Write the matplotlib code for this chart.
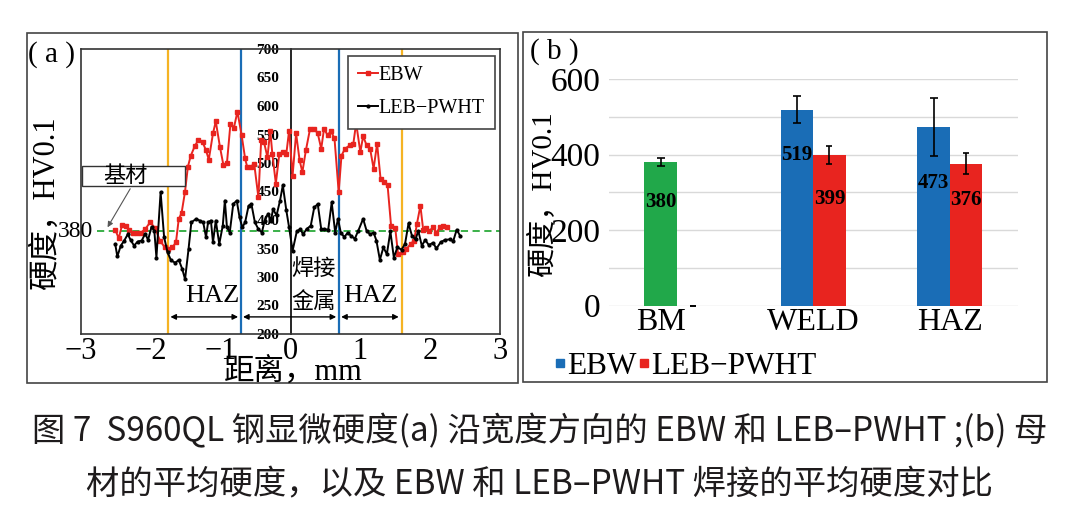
import numpy as np
import matplotlib.pyplot as plt
from matplotlib.patches import Rectangle
from matplotlib.lines import Line2D

plt.rcParams['font.family'] = ['Liberation Serif', 'Noto Sans CJK SC']
plt.rcParams['axes.unicode_minus'] = True

# (a) hardness profile across the joint
ebw_x = [-2.51, -2.46, -2.41, -2.36, -2.31, -2.26, -2.20, -2.14, -2.08, -2.01,
         -1.94, -1.87, -1.80, -1.75, -1.69, -1.64, -1.60, -1.56, -1.51, -1.47,
         -1.43, -1.37, -1.32, -1.26, -1.21, -1.17, -1.11, -1.07, -1.01, -0.96,
         -0.91, -0.86, -0.81, -0.76, -0.70, -0.65, -0.62, -0.57, -0.52, -0.46,
         -0.42, -0.38, -0.33, -0.29, -0.26, -0.21, -0.16, -0.11, -0.06, -0.02,
         0.03, 0.08, 0.13, 0.17, 0.22, 0.28, 0.34, 0.39, 0.44, 0.48,
         0.53, 0.58, 0.63, 0.69, 0.73, 0.78, 0.85, 0.90, 0.94, 1.00,
         1.04, 1.09, 1.14, 1.19, 1.24, 1.29, 1.34, 1.39, 1.44, 1.50,
         1.54, 1.61, 1.66, 1.72, 1.77, 1.81, 1.86, 1.90, 1.94, 1.99,
         2.04, 2.09, 2.14, 2.19, 2.24]
ebw_hv = [383, 368, 392, 389, 383, 378, 378, 378, 384, 396,
          386, 364, 352, 349, 352, 361, 402, 412, 450, 493,
          512, 530, 540, 537, 522, 506, 552, 573, 528, 496,
          500, 569, 562, 590, 549, 508, 493, 493, 499, 440,
          540, 537, 510, 557, 516, 464, 516, 519, 516, 557,
          478, 552, 505, 484, 522, 560, 560, 552, 525, 560,
          549, 556, 543, 449, 513, 525, 531, 534, 570, 519,
          547, 531, 525, 490, 534, 472, 466, 461, 390, 386,
          340, 343, 349, 358, 364, 393, 425, 383, 386, 381,
          387, 378, 387, 390, 388]

pwht_x = [-2.51, -2.48, -2.43, -2.38, -2.33, -2.29, -2.24, -2.19, -2.13, -2.08,
          -2.04, -1.99, -1.95, -1.92, -1.86, -1.81, -1.76, -1.71, -1.65, -1.60,
          -1.55, -1.51, -1.46, -1.42, -1.35, -1.30, -1.25, -1.21, -1.18, -1.14,
          -1.11, -1.07, -1.02, -0.97, -0.94, -0.91, -0.87, -0.82, -0.77, -0.73,
          -0.69, -0.65, -0.60, -0.56, -0.51, -0.46, -0.41, -0.37, -0.32, -0.28,
          -0.25, -0.20, -0.15, -0.11, -0.06, -0.02, 0.03, 0.09, 0.14, 0.18,
          0.23, 0.29, 0.34, 0.39, 0.44, 0.48, 0.54, 0.59, 0.64, 0.68,
          0.72, 0.77, 0.82, 0.87, 0.92, 0.97, 1.04, 1.09, 1.14, 1.19,
          1.23, 1.28, 1.33, 1.38, 1.43, 1.48, 1.53, 1.59, 1.64, 1.69,
          1.74, 1.79, 1.83, 1.88, 1.93, 1.98, 2.04, 2.09, 2.15, 2.21,
          2.28, 2.33, 2.38, 2.43]
pwht_hv = [358, 336, 355, 364, 375, 365, 355, 362, 364, 376,
           365, 388, 381, 334, 449, 370, 343, 329, 325, 330,
           314, 296, 349, 396, 402, 399, 396, 370, 396, 399,
           361, 399, 358, 390, 434, 387, 378, 428, 434, 405,
           387, 396, 425, 428, 396, 384, 378, 399, 411, 399,
           419, 408, 434, 461, 417, 387, 346, 380, 384, 375,
           384, 390, 422, 428, 384, 384, 383, 431, 378, 402,
           378, 370, 378, 372, 367, 381, 402, 381, 375, 378,
           364, 330, 352, 340, 380, 334, 352, 348, 358, 394,
           372, 366, 381, 355, 365, 356, 360, 350, 361, 365,
           366, 363, 383, 372]

base_hv = 380
zone_bounds = [-1.75, -0.71, 0.695, 1.59]

# (b) average hardness per zone
zones = ['BM', 'WELD', 'HAZ']
ebw_mean = [380, 519, 473]
ebw_err = [10, 35, 78]
pwht_mean = [0, 399, 376]
pwht_err = [0, 24, 28]

RED = '#E8241F'
BLUE = '#1A6DB6'
GREEN = '#21A84A'
YELLOW = '#F5B323'
W, H = 1080, 507

fig = plt.figure(figsize=(W / 100, H / 100), dpi=100)

# ---------- panel (a) ----------
ax = fig.add_axes([81 / W, 1 - 334 / H, 419 / W, 285 / H])
ax.plot(ebw_x, ebw_hv, color=RED, lw=1.4, marker='s', ms=3, label='EBW', zorder=3)
ax.plot(pwht_x, pwht_hv, color='black', lw=1.4, marker='o', ms=2, label='LEB−PWHT', zorder=3)
ax.set_xlim(-3, 3)
ax.set_ylim(200, 700)
ax.axhline(base_hv, xmin=0.037, color='#2BAA3A', ls='--', lw=1.3, dashes=(4, 2.5), zorder=2)
for xv, c in zip(zone_bounds, [YELLOW, BLUE, BLUE, YELLOW]):
    ax.axvline(xv, color=c, lw=1.6, zorder=2)

for s in ax.spines.values():
    s.set_color('#333333')
    s.set_linewidth(1.2)
ax.spines['left'].set_position(('data', 0))
ax.spines['left'].set_color('black')
ax.add_line(Line2D([0, 0], [0, 1], transform=ax.transAxes, color='#333333', lw=1.2, clip_on=False))

ax.set_yticks(range(200, 701, 50))
ax.tick_params(axis='y', length=0, pad=8, labelsize=11)
for lbl in ax.get_yticklabels():
    lbl.set_fontweight('bold')
ax.set_xticks(range(-3, 4))
ax.tick_params(axis='x', length=0, labelsize=22, pad=2)

ax.text(-2.83, base_hv, '380', ha='right', va='center', fontsize=17)

# zone arrows
arrow_y = 230
for x0, x1 in zip(zone_bounds[:-1], zone_bounds[1:]):
    ax.annotate('', xy=(x1 - 0.04, arrow_y), xytext=(x0 + 0.03, arrow_y),
                arrowprops=dict(arrowstyle='<|-|>', color='black', lw=1,
                                mutation_scale=8, shrinkA=0, shrinkB=0))
ax.text(-1.125, 267, 'HAZ', ha='center', va='center', fontsize=19)
ax.text(1.14, 267, 'HAZ', ha='center', va='center', fontsize=19)
ax.text(0.33, 313, '焊接', ha='center', va='center', fontsize=16)
ax.text(0.33, 256, '金属', ha='center', va='center', fontsize=16)

ax.add_patch(Rectangle((-2.99, 459), 1.48, 36, facecolor='white', edgecolor='#333333',
                       lw=1, zorder=5))
ax.text(-2.37, 476, '基材', ha='center', va='center', fontsize=16, zorder=6)
ax.annotate('', xy=(-2.64, 383), xytext=(-2.275, 459),
            arrowprops=dict(arrowstyle='-|>', color='#555555', lw=0.8, mutation_scale=8),
            zorder=6)

leg = ax.legend(loc='upper right', bbox_to_anchor=(0.988, 0.975), fontsize=14.5,
                fancybox=False, edgecolor='#444444', framealpha=1, handlelength=1.0,
                handletextpad=0.05, labelspacing=0.7, borderpad=0.5, borderaxespad=0)
leg.get_frame().set_linewidth(1.2)

fig.text(46 / W, 1 - 203 / H, '硬度，HV0.1', rotation=90, fontsize=22, ha='center', va='center')
fig.text(293 / W, 1 - 372 / H, '距离，mm', fontsize=22, ha='center', va='center')
fig.text(52 / W, 1 - 55 / H, '( a )', fontsize=21, ha='center', va='center')

# ---------- panel (b) ----------
axb = fig.add_axes([608.5 / W, 1 - 305.7 / H, 409.5 / W, 226.7 / H])
w = 0.238
xi = np.arange(len(zones))
ekw = dict(lw=1.2, capthick=1.2, ecolor='black')
axb.bar(xi - w / 2, ebw_mean, w, yerr=ebw_err, color=[GREEN, BLUE, BLUE], capsize=3, error_kw=ekw)
axb.bar(xi + w / 2, pwht_mean, w, yerr=pwht_err, color=RED, capsize=2,
        error_kw=dict(lw=1.2, capthick=1.2, ecolor='black'))
axb.set_xlim(-0.5, 2.5)
axb.set_ylim(0, 600)
axb.set_yticks([0, 200, 400, 600])
axb.set_yticks([100, 300, 500], minor=True)
axb.grid(axis='y', which='both', color='#D9D9D9', lw=1)
axb.set_axisbelow(True)
for s in axb.spines.values():
    s.set_visible(False)
axb.tick_params(axis='both', which='both', length=0)
axb.tick_params(axis='y', labelsize=24, pad=6)
axb.set_xticks([0 - w / 2, 1, 2])
axb.set_xticklabels(zones)
axb.tick_params(axis='x', labelsize=23, pad=2)

ebw_label_y = [275, 399, 324]
pwht_label_y = [282, 280]
for i in range(3):
    axb.text(xi[i] - w / 2, ebw_label_y[i], str(ebw_mean[i]), ha='center', va='center',
             fontsize=15, fontweight='bold')
for i, yy in zip([1, 2], pwht_label_y):
    axb.text(xi[i] + w / 2, yy, str(pwht_mean[i]), ha='center', va='center',
             fontsize=15, fontweight='bold')

fig.text(543 / W, 1 - 194 / H, '硬度，HV0.1', rotation=90, fontsize=21, ha='center', va='center')
fig.text(554 / W, 1 - 52 / H, '( b )', fontsize=21, ha='center', va='center')

handles = [Line2D([], [], marker='s', ls='none', color=BLUE, ms=6),
           Line2D([], [], marker='s', ls='none', color=RED, ms=6)]
fig.legend(handles, ['EBW', 'LEB−PWHT'], ncol=2, loc='center left',
           bbox_to_anchor=(553 / W, 1 - 366 / H), frameon=False, handletextpad=0.0,
           columnspacing=0.0, handlelength=0.45, fontsize=22.5, borderpad=0, borderaxespad=0)

# panel frames
fig.add_artist(Rectangle((27 / W, 1 - 383 / H), 491 / W, 350 / H, transform=fig.transFigure,
                         fill=False, edgecolor='#444444', lw=1.2))
fig.add_artist(Rectangle((523 / W, 1 - 381.7 / H), 523.7 / W, 350 / H, transform=fig.transFigure,
                         fill=False, edgecolor='#444444', lw=1.2))

# caption
cap_font = ['Noto Sans CJK SC', 'DejaVu Sans']
fig.text(0.5, 1 - 432 / H, '图 7  S960QL 钢显微硬度(a) 沿宽度方向的 EBW 和 LEB–PWHT ;(b) 母',
         fontsize=24, ha='center', va='center', family=cap_font, color='#1E1B1C',
         fontweight='medium')
fig.text(0.5, 1 - 485 / H, '材的平均硬度，以及 EBW 和 LEB–PWHT 焊接的平均硬度对比',
         fontsize=24, ha='center', va='center', family=cap_font, color='#1E1B1C',
         fontweight='medium')

fig.savefig('out.png', dpi=100)
